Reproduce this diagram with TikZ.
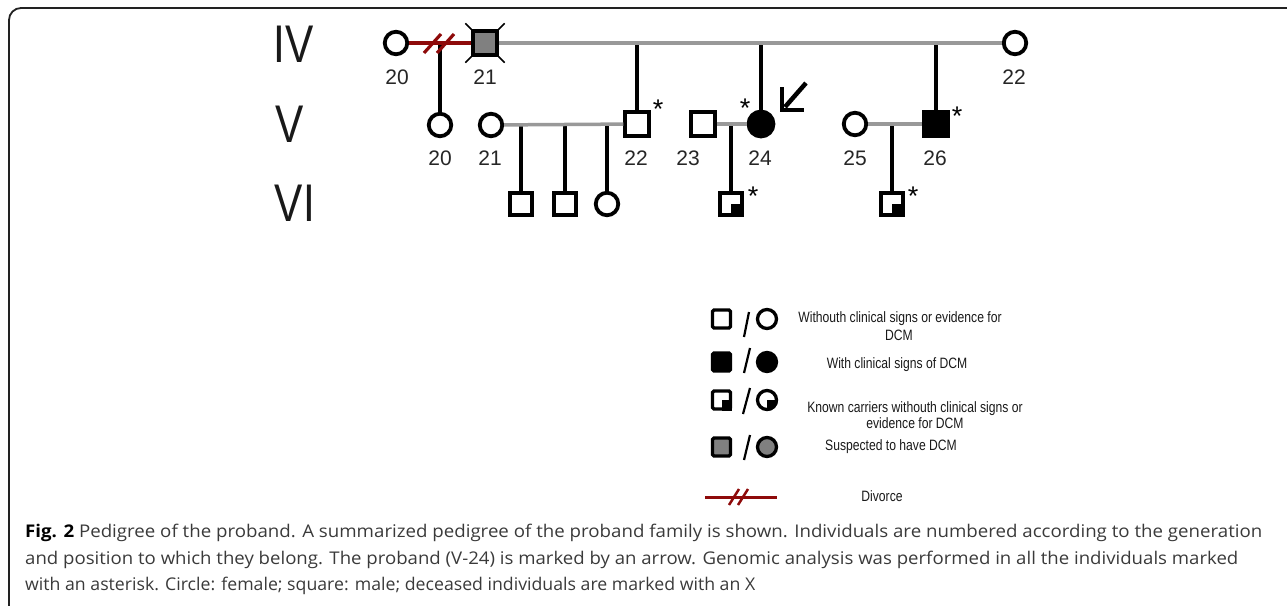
\documentclass[tikz,border=0pt]{standalone}
\usepackage{fontspec}
\setmainfont{Liberation Sans}
\newfontfamily\capfont{Open Sans}
\usepackage{graphicx}
\definecolor{linegray}{HTML}{999999}
\definecolor{susgray}{HTML}{808080}
\definecolor{divred}{HTML}{8E0A0A}
\definecolor{captext}{HTML}{3A3A3A}
\definecolor{framecol}{HTML}{222222}
\tikzset{
  fem/.style={circle,draw=black,line width=3.8pt,minimum size=22.5pt,inner sep=0pt,fill=white},
  mal/.style={rectangle,draw=black,line width=3.8pt,minimum size=23.5pt,inner sep=0pt,fill=white},
  lmal/.style={rectangle,draw=black,line width=3.3pt,rounded corners=1.5pt,minimum size=18pt,inner sep=0pt,fill=white},
  lfem/.style={circle,draw=black,line width=3.3pt,minimum size=19pt,inner sep=0pt,fill=white},
  num/.style={font=\fontsize{21}{21}\selectfont,inner sep=0pt,text=black!85},
  gen/.style={font=\fontsize{53}{53}\selectfont,inner sep=0pt,text=black!90},
  ast/.style={font=\fontsize{27}{27}\selectfont,inner sep=0pt},
  legtxt/.style={font=\fontsize{15}{15}\selectfont,inner sep=0pt,anchor=base,text=black!90},
  capline/.style={font=\capfont\fontsize{17.5}{17.5}\selectfont,inner sep=0pt,anchor=base west,text=captext},
  mline/.style={line width=3.5pt,draw=linegray},
  dline/.style={line width=3.6pt,draw=black},
  divl/.style={line width=3.8pt,draw=divred},
  divslash/.style={line width=3.2pt,draw=divred},
  xline/.style={line width=1.5pt,draw=black},
  lslash/.style={line width=2.2pt,draw=black},
  frameline/.style={line width=1.8pt,draw=framecol,rounded corners=12pt},
  probarrow/.style={line width=4.5pt,draw=black},
}
\newcommand{\legscale}[1]{\scalebox{0.81}[1]{#1}}
\begin{document}
\begin{tikzpicture}[x=1pt,y=-1pt]
\useasboundingbox (0,0) rectangle (1287,605);
% frame
\coordinate (fr1) at (1300,8);
\coordinate (fr2) at (9,8);
\coordinate (fr3) at (9,625);
\coordinate (fr4) at (60,625);
\draw[frameline] (fr1) -- (fr2) -- (fr3) -- (fr4);

% generation labels
\node[gen] (gIV) at (294,44) {\scalebox{0.8}[1]{IV}};
\node[gen] (gV) at (290,124) {\scalebox{0.8}[1]{V}};
\node[gen] (gVI) at (295,203) {\scalebox{0.8}[1]{VI}};

% coordinates for drops
\coordinate (d1) at (440,43);
\coordinate (d2) at (637,43);
\coordinate (d3) at (761,43);
\coordinate (d4) at (936,43);
\coordinate (d5) at (521,125);
\coordinate (d6) at (565,125);
\coordinate (d7) at (607,125);
\coordinate (d8) at (731,124);
\coordinate (d9) at (892,124);

% generation IV
\node[fem] (iv20) at (396,43) {};
\node[mal,fill=susgray] (iv21) at (485,43) {};
\node[fem] (iv22) at (1015,43) {};

% generation V
\node[fem] (v20) at (440,125) {};
\node[fem] (v21) at (491,125) {};
\node[mal] (v22) at (637,124) {};
\node[mal] (v23) at (703,124) {};
\node[fem,fill=black,minimum size=25pt] (v24) at (761,124) {};
\node[fem] (v25) at (855,124) {};
\node[mal,fill=black] (v26) at (936,124) {};

% generation VI
\node[mal,minimum size=22pt] (vi1) at (521,204) {};
\node[mal,minimum size=22pt] (vi2) at (565,204) {};
\node[fem] (vi3) at (607,204) {};
\node[mal,minimum size=22pt] (vi4) at (731,204) {};
\node[mal,minimum size=22pt] (vi5) at (892,204) {};
\fill[black] (vi4.center) rectangle (vi4.south east);
\fill[black] (vi5.center) rectangle (vi5.south east);

% deceased X on IV-21
\draw[xline] (iv21.north west) -- ++(-6,-6);
\draw[xline] (iv21.north east) -- ++(6,-6);
\draw[xline] (iv21.south west) -- ++(-6,6);
\draw[xline] (iv21.south east) -- ++(6,6);

% drops
\draw[dline] (d1) -- (v20);
\draw[dline] (d2) -- (v22);
\draw[dline] (d3) -- (v24);
\draw[dline] (d4) -- (v26);
\draw[dline] (d5) -- (vi1);
\draw[dline] (d6) -- (vi2);
\draw[dline] (d7) -- (vi3);
\draw[dline] (d8) -- (vi4);
\draw[dline] (d9) -- (vi5);

% partnership lines
\draw[divl] (iv20) -- (iv21);
\draw[mline] (iv21) -- (iv22);
\draw[mline] (v21) -- (v22);
\draw[mline] (v23) -- (v24);
\draw[mline] (v25) -- (v26);

% divorce slashes
\coordinate (ds1a) at (424,53);
\coordinate (ds1b) at (441,34);
\coordinate (ds2a) at (437,53);
\coordinate (ds2b) at (454,34);
\draw[divslash] (ds1a) -- (ds1b);
\draw[divslash] (ds2a) -- (ds2b);

% number labels
\node[num] (t-iv20) at (397,77) {20};
\node[num] (t-iv21) at (485,77) {21};
\node[num] (t-iv22) at (1014,77) {22};
\node[num] (t-v20) at (440,158) {20};
\node[num] (t-v21) at (490,158) {21};
\node[num] (t-v22) at (636,158) {22};
\node[num] (t-v23) at (688,158) {23};
\node[num] (t-v24) at (760,158) {24};
\node[num] (t-v25) at (855,158) {25};
\node[num] (t-v26) at (935,158) {26};

% asterisks
\node[ast] (a1) at (658,109) {*};
\node[ast] (a2) at (745,108) {*};
\node[ast] (a3) at (753,196) {*};
\node[ast] (a4) at (957,116) {*};
\node[ast] (a5) at (913,196) {*};

% proband arrow
\coordinate (pa1) at (806,83);
\coordinate (pa2) at (785,107);
\coordinate (ph1) at (782,87);
\coordinate (ph2) at (782,110);
\coordinate (ph3) at (804,110);
\draw[probarrow] (pa1) -- (pa2);
\draw[probarrow,miter limit=4] (ph1) -- (ph2) -- (ph3);

% legend symbols
\node[lmal] (l1m) at (721.5,319) {};
\node[lfem] (l1f) at (767,319) {};
\node[lmal,fill=black] (l2m) at (721.5,362) {};
\node[lfem,fill=black] (l2f) at (767,362) {};
\node[lmal] (l3m) at (721.5,400) {};
\node[lfem] (l3f) at (767,400) {};
\fill[black] (l3m.center) rectangle (l3m.south east);
\fill[black] (l3f.center) -- ++(11,0) arc[start angle=0,end angle=90,radius=11] -- cycle;
\node[lmal,fill=susgray] (l4m) at (721.5,447) {};
\node[lfem,fill=susgray] (l4f) at (767,447) {};

\coordinate (sl1a) at (749,312);
\coordinate (sl1b) at (744,337);
\coordinate (sl2a) at (750,348);
\coordinate (sl2b) at (744,373);
\coordinate (sl3a) at (750,388);
\coordinate (sl3b) at (743,414);
\coordinate (sl4a) at (750,435);
\coordinate (sl4b) at (744,460);
\draw[lslash] (sl1a) -- (sl1b);
\draw[lslash] (sl2a) -- (sl2b);
\draw[lslash] (sl3a) -- (sl3b);
\draw[lslash] (sl4a) -- (sl4b);

\coordinate (ld1) at (705,497);
\coordinate (ld2) at (777,497);
\draw[divl,line width=3pt] (ld1) -- (ld2);
\coordinate (lds1a) at (729,505);
\coordinate (lds1b) at (739,489);
\coordinate (lds2a) at (738,505);
\coordinate (lds2b) at (748,489);
\draw[divslash,line width=2.5pt] (lds1a) -- (lds1b);
\draw[divslash,line width=2.5pt] (lds2a) -- (lds2b);

% legend texts
\node[legtxt] (lt1a) at (900,322.7) {\legscale{Withouth clinical signs or evidence for}};
\node[legtxt] (lt1b) at (899,340) {\legscale{DCM}};
\node[legtxt] (lt2) at (897,368.3) {\legscale{With clinical signs of DCM}};
\node[legtxt] (lt3a) at (915,412.7) {\legscale{Known carriers withouth clinical signs or}};
\node[legtxt] (lt3b) at (915,428.3) {\legscale{evidence for DCM}};
\node[legtxt] (lt4) at (891,450.7) {\legscale{Suspected to have DCM}};
\node[legtxt] (lt5) at (882,501.7) {\legscale{Divorce}};

% caption
\node[capline] (cap1) at (25,537) {\resizebox{1237pt}{\height}{\textcolor{black}{\textbf{Fig. 2}} Pedigree of the proband. A summarized pedigree of the proband family is shown. Individuals are numbered according to the generation}};
\node[capline] (cap2) at (25,564) {\resizebox{1213pt}{\height}{and position to which they belong. The proband (V-24) is marked by an arrow. Genomic analysis was performed in all the individuals marked}};
\node[capline] (cap3) at (25,590) {\resizebox{730pt}{\height}{with an asterisk. Circle: female; square: male; deceased individuals are marked with an X}};
\end{tikzpicture}
\end{document}
